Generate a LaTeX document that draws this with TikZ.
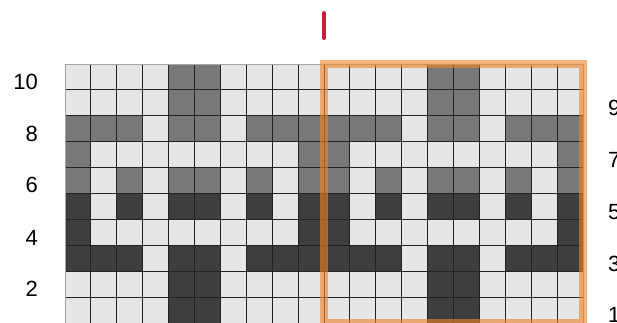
\documentclass[tikz,border=0pt]{standalone}
\usepackage{fontspec}
\setmainfont{Liberation Sans}
\usepackage{xcolor}
\usepackage{tikz}
\usetikzlibrary{positioning,calc}
\definecolor{cell0}{RGB}{230,230,230}
\definecolor{cell1}{RGB}{120,120,120}
\definecolor{cell2}{RGB}{62,62,62}
\definecolor{gridline}{RGB}{34,34,34}
\definecolor{frameorange}{RGB}{238,132,40}
\definecolor{tickred}{RGB}{200,30,55}
\newcommand{\cellw}{25.9}

\begin{document}
\begin{tikzpicture}[x=1pt, y=-1pt,
    rowlabel/.style={inner sep=0pt, font=\fontsize{22}{26}\selectfont, text=black},
    chartcell/.style={draw=gridline, line width=1pt}]
  \useasboundingbox (0,0) rectangle (617,322);
  \clip (0,0) rectangle (617,322);
  % chart cells, top row first; 0 light, 1 mid, 2 dark
  \foreach \rowpat [count=\r] in {
      {0,0,0,0,1,1,0,0,0,0},
      {0,0,0,0,1,1,0,0,0,0},
      {1,1,1,0,1,1,0,1,1,1},
      {1,0,0,0,0,0,0,0,0,1},
      {1,0,1,0,1,1,0,1,0,1},
      {2,0,2,0,2,2,0,2,0,2},
      {2,0,0,0,0,0,0,0,0,2},
      {2,2,2,0,2,2,0,2,2,2},
      {0,0,0,0,2,2,0,0,0,0},
      {0,0,0,0,2,2,0,0,0,0}}
    \foreach \rep in {0,1}
      \foreach \v [count=\c] in \rowpat
        \draw[chartcell, fill=cell\v]
          ({65+(\rep*10+\c-1)*\cellw},{64+(\r-1)*\cellw})
          rectangle +(\cellw,\cellw);
  \draw[gray!70, line width=1pt] (65,64) rectangle ({65+20*\cellw},{64+10*\cellw});
  % repeat frame
  \draw[frameorange, opacity=0.62, line width=8pt]
    ({65+10*\cellw},{64}) rectangle ({65+20*\cellw},{64+10*\cellw});
  % centre mark
  \draw[tickred, line width=4pt, line cap=round] (324,13) -- (324,38);
  % row numbers
  \foreach \n/\yy in {10/82,8/133.5,6/185,4/237.5,2/289}
    \node[rowlabel, anchor=east] (lbl\n) at (38,\yy) {\n};
  \foreach \n/\yy in {9/108,7/160,5/212,3/263.5,1/315}
    \node[rowlabel, anchor=west] (lbl\n) at (608,\yy) {\n};
\end{tikzpicture}
\end{document}
